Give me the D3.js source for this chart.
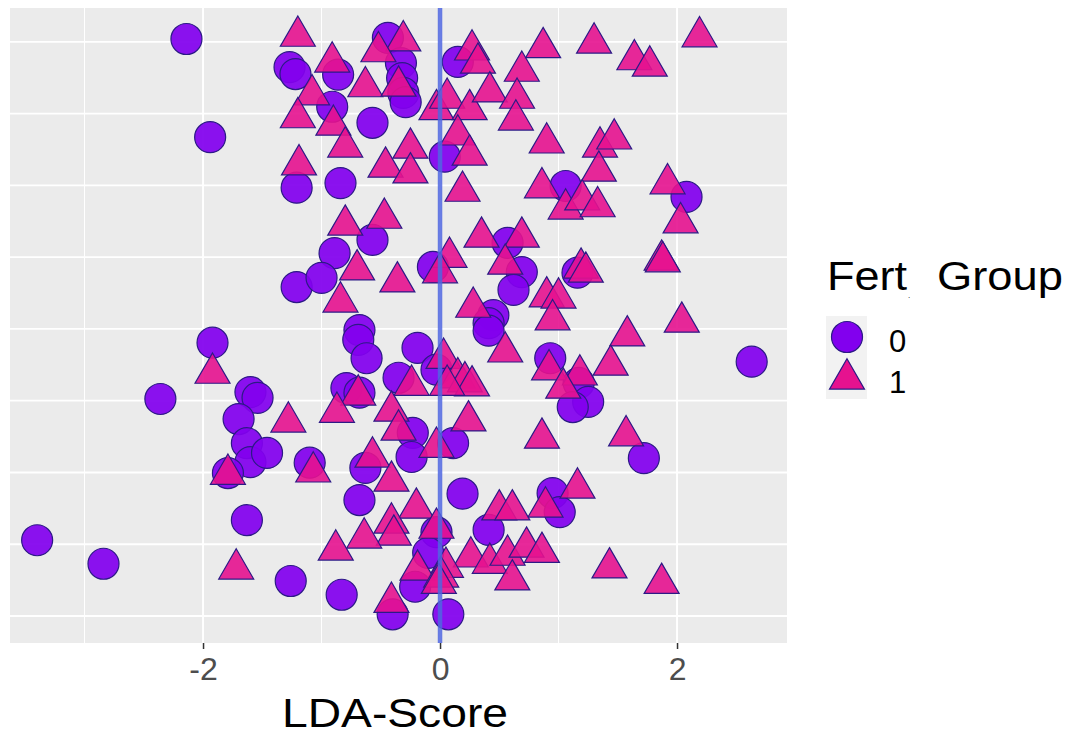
<!DOCTYPE html>
<html>
<head>
<meta charset="utf-8">
<script src="https://cdn.jsdelivr.net/npm/d3@7"></script>
<style>
  body { margin: 0; background: #fff; }
  text { font-family: "Liberation Sans", Arial, Helvetica, sans-serif; }
</style>
</head>
<body>
<div id="chart"></div>
<script>
// LDA scores, group 0 (circles)
const group0X = [-2.14, -1.94, -1.27, -1.22, -0.86, -0.44, -0.33, -0.32, -0.31, -0.29,
  -0.91, -0.57, -1.21, -0.84, 0.04, 0.15, 1.06, 2.08, -0.57, -0.89,
  -1.21, -1.00, -0.06, 0.57, 0.69, 0.62, 1.16, 0.45, 0.41, 0.41,
  -0.68, -0.69, -0.62, -0.19, -0.03, -0.35, -0.79, -0.68, 0.93, 1.17,
  1.25, 1.12, 2.63, -1.92, -2.36, -1.60, -1.54, -1.70, -1.63, -1.60,
  -1.46, -1.79, -0.23, -0.24, 0.11, -0.63, -1.10, 1.72, -0.68, 0.19,
  0.95, 1.01, 0.41, -0.03, -0.10, -1.63, -3.40, -2.84, -1.26, -0.83,
  -0.21, -0.40, 0.07];
// vertical jitter, group 0
const group0Y = [1.005, 0.834, 0.956, 0.944, 0.943, 1.007, 0.963, 0.937, 0.911, 0.895,
  0.887, 0.859, 0.746, 0.754, 0.800, 0.965, 0.749, 0.730, 0.655, 0.632,
  0.573, 0.589, 0.608, 0.650, 0.599, 0.568, 0.598, 0.524, 0.510, 0.497,
  0.498, 0.481, 0.449, 0.467, 0.429, 0.415, 0.397, 0.389, 0.449, 0.406,
  0.373, 0.364, 0.443, 0.476, 0.378, 0.390, 0.380, 0.343, 0.301, 0.268,
  0.284, 0.249, 0.319, 0.277, 0.301, 0.258, 0.267, 0.275, 0.202, 0.213,
  0.214, 0.181, 0.150, 0.146, 0.110, 0.167, 0.132, 0.091, 0.061, 0.037,
  0.051, 0.003, 0.003];

// LDA scores, group 1 (triangles)
const group1X = [-1.20, -0.91, -0.63, -0.31, -0.52, -0.35, -1.08, -1.20, -0.90, -0.80,
  -1.19, -0.46, -0.25, -0.25, -0.03, 0.06, 0.25, 0.15, 0.25, 0.27,
  0.32, 0.42, 0.69, 0.87, 1.30, 0.65, 0.64, 0.90, 1.35, 1.47,
  1.64, 1.77, 2.19, 1.34, 0.86, 1.06, 1.20, 1.33, 1.92, 2.03,
  1.87, 1.88, 1.19, 1.23, 0.90, 1.00, 0.95, 1.58, 2.04, 0.19,
  -0.80, -0.47, 0.35, 0.69, 0.08, 0.00, 0.55, -0.70, -0.36, -0.84,
  0.28, 0.03, 0.15, 0.21, 0.27, 0.55, 0.92, 1.44, 1.18, 1.04,
  -1.92, -1.79, -1.72, -0.24, 0.06, -0.69, -0.87, -1.28, -0.41, -0.35,
  0.24, -0.03, 0.86, 1.57, -0.57, -1.07, -0.41, 1.16, 0.89, -0.20,
  0.50, 0.61, -0.41, -0.39, -0.64, -0.88, -0.03, 0.26, 0.42, 0.57,
  0.73, 0.86, 0.61, 0.05, -0.19, 0.01, -0.01, -0.41, 1.43, 1.87];
// vertical jitter, group 1
const group1Y = [1.010, 0.965, 0.922, 1.002, 0.983, 0.923, 0.908, 0.868, 0.855, 0.817,
  0.786, 0.782, 0.815, 0.772, 0.882, 0.902, 0.882, 0.838, 0.803, 0.986,
  0.963, 0.913, 0.949, 0.990, 0.998, 0.902, 0.864, 0.824, 0.817, 0.831,
  0.969, 0.958, 1.009, 0.775, 0.746, 0.709, 0.725, 0.713, 0.753, 0.685,
  0.620, 0.617, 0.606, 0.599, 0.556, 0.554, 0.516, 0.488, 0.512, 0.740,
  0.681, 0.693, 0.660, 0.660, 0.625, 0.598, 0.613, 0.603, 0.582, 0.547,
  0.538, 0.449, 0.415, 0.408, 0.401, 0.460, 0.429, 0.437, 0.420, 0.397,
  0.423, 0.247, 0.082, 0.402, 0.402, 0.385, 0.355, 0.338, 0.357, 0.324,
  0.340, 0.294, 0.310, 0.314, 0.277, 0.251, 0.235, 0.223, 0.190, 0.188,
  0.185, 0.185, 0.162, 0.141, 0.136, 0.115, 0.153, 0.103, 0.092, 0.106,
  0.120, 0.111, 0.063, 0.085, 0.080, 0.068, 0.057, 0.024, 0.084, 0.057];

const xTicks = [-2, 0, 2];
const xMinor = [-3, -1, 1];
const yMajor = [0, 0.25, 0.5, 0.75, 1];
const yMinor = [0.125, 0.375, 0.625, 0.875];
const groupLabels = ["0", "1"];

const W = 1075, H = 735;
const panel = { left: 10, right: 787, top: 8, bottom: 643 };

const svg = d3.select("#chart").append("svg")
    .attr("width", W)
    .attr("height", H);

const x = d3.scaleLinear().domain([-3.629, 2.928]).range([panel.left, panel.right]);
const y = d3.scaleLinear().domain([-0.047, 1.059]).range([panel.bottom, panel.top]);

// panel background
svg.append("rect")
    .attr("x", panel.left).attr("y", panel.top)
    .attr("width", panel.right - panel.left)
    .attr("height", panel.bottom - panel.top)
    .attr("fill", "#ebebeb");

const grid = svg.append("g");
// minor grid
grid.selectAll(".vminor").data(xMinor).enter().append("line")
    .attr("x1", d => x(d)).attr("x2", d => x(d))
    .attr("y1", panel.top).attr("y2", panel.bottom)
    .attr("stroke", "#fff").attr("stroke-width", 1);
grid.selectAll(".hminor").data(yMinor).enter().append("line")
    .attr("x1", panel.left).attr("x2", panel.right)
    .attr("y1", d => y(d)).attr("y2", d => y(d))
    .attr("stroke", "#fff").attr("stroke-width", 1.8);
// major grid
grid.selectAll(".vmajor").data(xTicks).enter().append("line")
    .attr("x1", d => x(d)).attr("x2", d => x(d))
    .attr("y1", panel.top).attr("y2", panel.bottom)
    .attr("stroke", "#fff").attr("stroke-width", 1.9);
grid.selectAll(".hmajor").data(yMajor).enter().append("line")
    .attr("x1", panel.left).attr("x2", panel.right)
    .attr("y1", d => y(d)).attr("y2", d => y(d))
    .attr("stroke", "#fff").attr("stroke-width", 1.8);

const circleFill = "#8200ee", triFill = "#e6128f", outline = "#2c1a86";
const tri = d3.symbol(d3.symbolTriangle, 530);

// group 0 circles
svg.append("g").selectAll("circle")
    .data(group0X.map((v, i) => [v, group0Y[i]]))
    .enter().append("circle")
    .attr("cx", d => x(d[0]))
    .attr("cy", d => y(d[1]))
    .attr("r", 15.5)
    .attr("fill", circleFill)
    .attr("fill-opacity", 0.93)
    .attr("stroke", outline)
    .attr("stroke-width", 1.2);

// group 1 triangles
svg.append("g").selectAll("path")
    .data(group1X.map((v, i) => [v, group1Y[i]]))
    .enter().append("path")
    .attr("d", tri)
    .attr("transform", d => `translate(${x(d[0])},${y(d[1])})`)
    .attr("fill", triFill)
    .attr("fill-opacity", 0.9)
    .attr("stroke", outline)
    .attr("stroke-width", 1.2);

// vertical reference line at 0
svg.append("line")
    .attr("x1", x(0)).attr("x2", x(0))
    .attr("y1", panel.top).attr("y2", panel.bottom)
    .attr("stroke", "#4f66e0")
    .attr("stroke-opacity", 0.85)
    .attr("stroke-width", 4.5);

// x axis
const xAxis = svg.append("g")
    .attr("transform", `translate(0,${panel.bottom})`)
    .call(d3.axisBottom(x).tickValues(xTicks).tickSize(6).tickPadding(8).tickFormat(d3.format("d")));
xAxis.select(".domain").remove();
xAxis.selectAll(".tick line").attr("stroke", "#333").attr("stroke-width", 1.5);
xAxis.selectAll(".tick text")
    .attr("fill", "#4d4d4d")
    .style("font-size", "32px")
    .text(d => d < 0 ? "-" + Math.abs(d) : d);

svg.append("text")
    .attr("x", 395)
    .attr("y", 727)
    .attr("text-anchor", "middle")
    .attr("textLength", 226)
    .attr("lengthAdjust", "spacingAndGlyphs")
    .style("font-size", "41px")
    .attr("fill", "#000")
    .text("LDA-Score");

// legend
const legend = svg.append("g");
const title = legend.append("text")
    .attr("x", 827).attr("y", 290)
    .style("font-size", "41px")
    .attr("fill", "#000");
title.append("tspan").attr("textLength", 80).attr("lengthAdjust", "spacingAndGlyphs").text("Fert");
title.append("tspan").attr("x", 908).attr("y", 298).style("font-size", "8px").text(".");
title.append("tspan").attr("x", 937).attr("y", 290)
    .attr("textLength", 126).attr("lengthAdjust", "spacingAndGlyphs").text("Group");

legend.append("rect")
    .attr("x", 826).attr("y", 316)
    .attr("width", 41).attr("height", 83)
    .attr("fill", "#f2f2f2");

legend.append("circle")
    .attr("cx", 847).attr("cy", 337).attr("r", 15.5)
    .attr("fill", circleFill).attr("stroke", outline).attr("stroke-width", 1.2);
legend.append("path")
    .attr("d", tri)
    .attr("transform", "translate(847,379)")
    .attr("fill", triFill).attr("stroke", outline).attr("stroke-width", 1.2);

legend.selectAll(".lab").data(groupLabels).enter().append("text")
    .attr("x", 889)
    .attr("y", (d, i) => 352 + i * 41)
    .style("font-size", "31px")
    .attr("fill", "#000")
    .text(d => d);
</script>
</body>
</html>
